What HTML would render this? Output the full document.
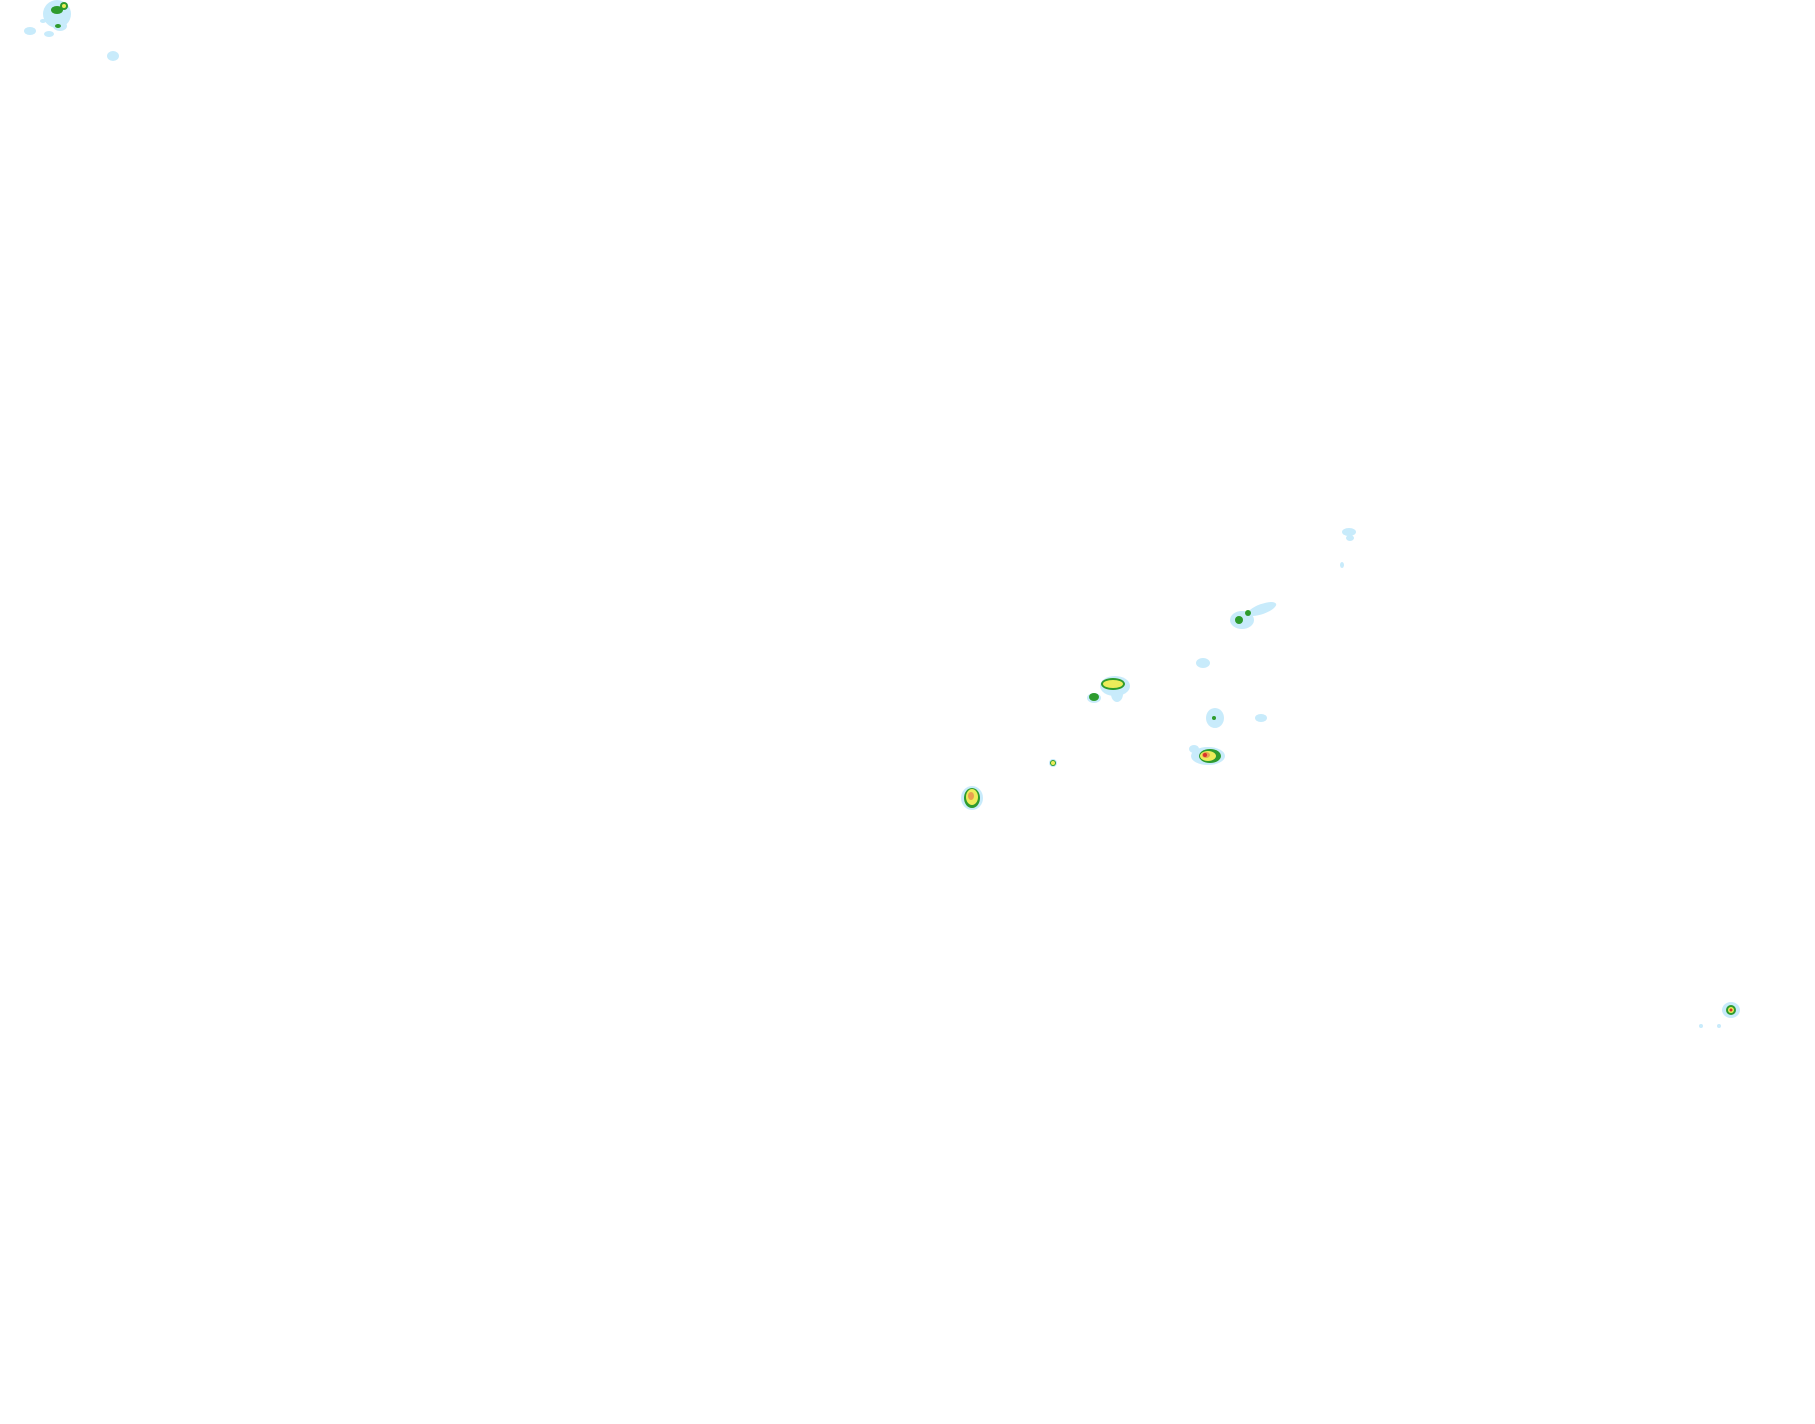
<!DOCTYPE html>
<html><head><meta charset="utf-8"><style>html,body{margin:0;padding:0;background:#fff}svg{display:block}</style></head>
<body>
<svg width="1815" height="1424" viewBox="0 0 1815 1424" xmlns="http://www.w3.org/2000/svg">
<rect width="1815" height="1424" fill="#fff"/>
<g fill="#c8ebfb">
<ellipse cx="57" cy="14" rx="14" ry="14"/>
<ellipse cx="60" cy="26" rx="7" ry="5"/>
<ellipse cx="30" cy="31" rx="6" ry="4"/>
<ellipse cx="43" cy="21" rx="3" ry="2"/>
<ellipse cx="49" cy="34" rx="5" ry="3"/>
<ellipse cx="113" cy="56" rx="6" ry="5"/>
<ellipse cx="1349" cy="532" rx="7" ry="4"/>
<ellipse cx="1350" cy="538" rx="4" ry="3"/>
<ellipse cx="1342" cy="565" rx="2" ry="3"/>
<ellipse cx="1242" cy="620" rx="12" ry="9"/>
<ellipse cx="1262" cy="609" rx="15" ry="5" transform="rotate(-20 1262 609)"/>
<ellipse cx="1203" cy="663" rx="7" ry="5"/>
<ellipse cx="1115" cy="686" rx="15" ry="10"/>
<ellipse cx="1117" cy="694" rx="6" ry="8"/>
<ellipse cx="1094" cy="698" rx="7" ry="5"/>
<ellipse cx="1215" cy="718" rx="9" ry="10"/>
<ellipse cx="1261" cy="718" rx="6" ry="4"/>
<ellipse cx="1208" cy="756" rx="17" ry="9"/>
<ellipse cx="1194" cy="749" rx="5" ry="4"/>
<ellipse cx="1053" cy="763" rx="4" ry="4"/>
<ellipse cx="972" cy="798" rx="11" ry="12"/>
<ellipse cx="1731" cy="1010" rx="9" ry="8"/>
<ellipse cx="1701" cy="1026" rx="2" ry="2"/>
<ellipse cx="1719" cy="1026" rx="2" ry="2"/>
</g>
<g fill="#2e9b2e">
<ellipse cx="57" cy="10" rx="6" ry="4"/>
<ellipse cx="64" cy="6" rx="4" ry="4"/>
<ellipse cx="58" cy="26" rx="3" ry="2"/>
<ellipse cx="1239" cy="620" rx="4" ry="4"/>
<ellipse cx="1248" cy="613" rx="3" ry="3"/>
<ellipse cx="1094" cy="697" rx="5" ry="4"/>
<ellipse cx="1214" cy="718" rx="2" ry="2"/>
<ellipse cx="1210" cy="756" rx="11" ry="7"/>
<ellipse cx="972" cy="798" rx="8" ry="10"/>
<ellipse cx="1113" cy="684" rx="12" ry="6"/>
<ellipse cx="1053" cy="763" rx="3" ry="3"/>
<ellipse cx="1731" cy="1010" rx="5" ry="5"/>
</g>
<g fill="#ecec5a">
<ellipse cx="64" cy="6" rx="2" ry="2"/>
<ellipse cx="1113" cy="684" rx="10" ry="4"/>
<ellipse cx="1208" cy="756" rx="8" ry="5"/>
<ellipse cx="972" cy="797" rx="6" ry="8"/>
<ellipse cx="1053" cy="763" rx="2" ry="2"/>
<ellipse cx="1731" cy="1010" rx="3" ry="3"/>
</g>
<g fill="#e9a050">
<ellipse cx="971" cy="796" rx="3" ry="4"/>
<ellipse cx="1206" cy="755" rx="4" ry="3"/>
</g>
<g fill="#d9302a">
<ellipse cx="1205" cy="755" rx="2" ry="2"/>
<ellipse cx="1731" cy="1010" rx="1.5" ry="1.5"/>
</g>
</svg>
</body></html>
